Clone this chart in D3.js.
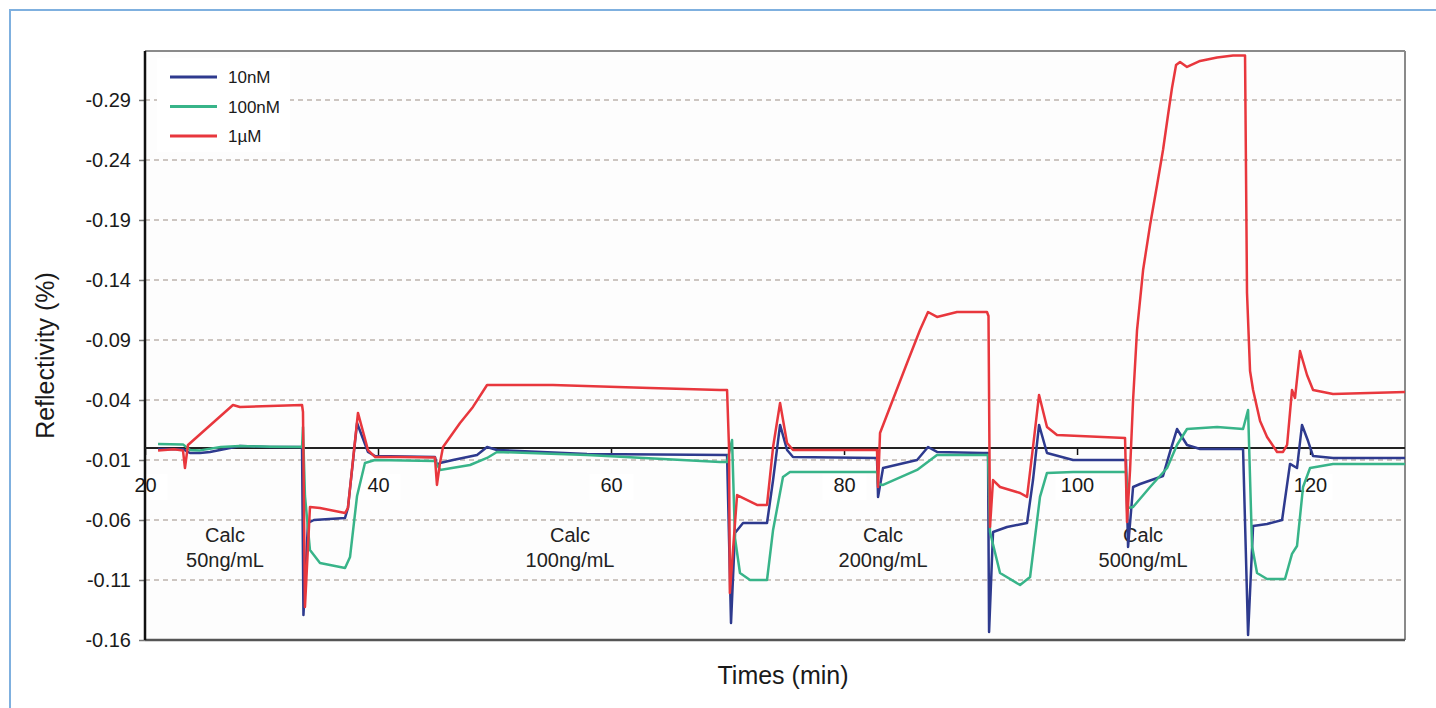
<!DOCTYPE html>
<html>
<head>
<meta charset="utf-8">
<script src="https://cdn.jsdelivr.net/npm/d3@7"></script>
<style>
  body { margin: 0; background: #fff; }
  svg { display: block; font-family: "Liberation Sans", Arial, sans-serif; }
</style>
</head>
<body>
<div class="chart"></div>
<script>
const seriesNames = ['10nM', '100nM', '1\u00b5M']
const seriesColors = ['#2e3a8e', '#38b489', '#e8373d']

// [time (min), reflectivity]
const s10nM = [
  [21.12, -0.0008], [23.26, -0.001], [23.86, -0.0042], [24.72, -0.0042], [25.58, -0.0033],
  [28.15, 0.0017], [30.73, 0.0008], [33.48, 0.0008], [33.6, -0.1392], [33.99, -0.0625],
  [34.5, -0.06], [37.17, -0.0583], [37.42, -0.05], [38.2, 0.0208], [39.14, -0.0033],
  [39.74, -0.0067], [44.89, -0.0075], [45.06, -0.0142], [45.32, -0.0125], [46.44, -0.01],
  [48.5, -0.0058], [49.36, 0.0008], [50.21, -0.0017], [57.94, -0.005], [69.96, -0.0058],
  [70.3, -0.1458], [70.64, -0.0708], [71.33, -0.0625], [73.39, -0.0625], [73.91, -0.0267],
  [74.51, 0.0192], [75.11, -0.0017], [75.62, -0.0075], [82.83, -0.0083], [82.92, -0.0408],
  [83.35, -0.0167], [86.27, -0.01], [87.21, 0.0008], [87.98, -0.0033], [91.93, -0.0042],
  [92.36, -0.0042], [92.45, -0.1533], [92.79, -0.07], [93.99, -0.0658], [95.71, -0.0625],
  [96.22, -0.0267], [96.74, 0.0192], [97.42, -0.0042], [99.66, -0.01], [104.2, -0.01],
  [104.38, -0.0825], [104.81, -0.0325], [105.41, -0.03], [107.38, -0.0233], [107.98, -0.0033],
  [108.58, 0.0158], [109.44, 0.0025], [110.56, -0.0008], [114.25, -0.0008], [114.68, -0.1558],
  [115.11, -0.065], [116.31, -0.0633], [117.6, -0.06], [118.28, -0.0133], [118.88, -0.0167],
  [119.31, 0.0192], [119.83, 0.0058], [120.26, -0.0067], [121.97, -0.0083], [128.15, -0.0083]
]

const s100nM = [
  [21.12, 0.0033], [23.26, 0.003], [23.86, -0.0017], [24.72, -0.002], [26.5, 0.0008],
  [28.15, 0.0017], [30.73, 0.001], [33.48, 0.0008], [33.56, 0.0175], [33.73, -0.04],
  [34.16, -0.085], [35.02, -0.0958], [37.17, -0.1], [37.6, -0.0908], [38.2, -0.04],
  [38.88, -0.0125], [39.74, -0.01], [44.89, -0.0108], [45.32, -0.0183], [47.9, -0.0142],
  [49.36, -0.0083], [50.21, -0.0033], [57.94, -0.0058], [69.36, -0.0117], [69.96, -0.0117],
  [70.39, 0.0067], [70.64, -0.075], [71.07, -0.1042], [71.93, -0.11], [73.39, -0.11],
  [73.91, -0.0683], [74.76, -0.0242], [75.36, -0.02], [82.83, -0.02], [82.92, -0.03],
  [83.35, -0.0308], [86.27, -0.0183], [87.98, -0.0058], [92.36, -0.0058], [92.53, -0.07],
  [93.39, -0.1042], [95.11, -0.1142], [95.97, -0.1075], [96.82, -0.0408], [97.42, -0.0208],
  [99.66, -0.02], [104.2, -0.02], [104.38, -0.05], [104.81, -0.0492], [106.27, -0.0325],
  [107.73, -0.0167], [108.58, 0.0025], [109.44, 0.0158], [112.02, 0.0175], [114.25, 0.0158],
  [114.68, 0.0317], [115.02, -0.0817], [115.45, -0.1042], [116.31, -0.1092], [117.85, -0.1092],
  [118.45, -0.0883], [118.88, -0.0817], [119.4, -0.0325], [120.0, -0.0167], [121.97, -0.0133],
  [128.15, -0.0133]
]

const s1uM = [
  [21.12, -0.002], [22.5, -0.001], [23.26, -0.002], [23.43, -0.0167], [23.69, 0.0025],
  [27.55, 0.0358], [28.15, 0.0342], [30.73, 0.035], [33.48, 0.0358],
  [33.56, 0.03], [33.73, -0.1325], [34.16, -0.0492], [35.02, -0.05], [37.17, -0.0542],
  [37.42, -0.05], [38.28, 0.0292], [39.14, -0.0017], [39.74, -0.0075], [41.89, -0.0075],
  [44.89, -0.008], [45.06, -0.0308], [45.32, -0.0125], [45.58, 0.0008], [47.04, 0.0208],
  [48.15, 0.0342], [49.36, 0.0525], [55.02, 0.0525], [63.35, 0.05], [69.36, 0.0483],
  [69.96, 0.0483], [70.13, 0.0], [70.2, -0.1208], [70.82, -0.0392], [72.53, -0.0475],
  [73.39, -0.0475], [73.91, 0.0008], [74.51, 0.0375], [75.11, 0.0042], [75.62, -0.0017],
  [82.83, -0.0017], [82.92, -0.0325], [83.09, 0.0125], [83.95, 0.0342], [85.41, 0.0708],
  [86.52, 0.0983], [87.21, 0.1133], [87.98, 0.1092], [89.7, 0.1133], [92.27, 0.1133],
  [92.4, 0.11], [92.53, -0.0658], [92.79, -0.0267], [93.39, -0.0325], [95.11, -0.0375],
  [95.71, -0.0408], [96.22, 0.0008], [96.74, 0.0442], [97.42, 0.0175], [98.28, 0.0108],
  [104.12, 0.0083], [104.29, -0.0617], [104.55, -0.0183], [104.81, 0.04], [105.15, 0.0983],
  [105.67, 0.1483], [106.27, 0.1858], [106.87, 0.2192], [107.38, 0.2483], [107.81, 0.2775],
  [108.15, 0.3], [108.5, 0.3192], [108.84, 0.3217], [109.44, 0.3175], [110.56, 0.3225],
  [112.02, 0.3254], [113.39, 0.327], [114.42, 0.327],
  [114.59, 0.1292], [114.85, 0.0642], [115.11, 0.0483], [115.71, 0.0225], [116.31, 0.0092],
  [117.17, -0.0033], [117.68, -0.0033], [118.03, 0.0025], [118.45, 0.0483], [118.71, 0.0417],
  [119.14, 0.0808], [119.74, 0.0608], [120.26, 0.0483], [121.97, 0.045], [128.15, 0.0467]
]

const xTicks = [20, 40, 60, 80, 100, 120]
const yTicks = [-0.16, -0.11, -0.06, -0.01, 0.04, 0.09, 0.14, 0.19, 0.24, 0.29]
const yTickLabels = ['-0.16', '-0.11', '-0.06', '-0.01', '-0.04', '-0.09', '-0.14', '-0.19', '-0.24', '-0.29']
const calcTimes = [26.87, 56.48, 83.35, 105.67]
const calcLabels = ['50ng/mL', '100ng/mL', '200ng/mL', '500ng/mL']

const W = 1436, H = 708
const margin = {top: 51, right: 31, bottom: 68, left: 145}

let svg = d3.select('.chart')
  .append('svg')
    .attr('width', W)
    .attr('height', H)

// outer frame
svg.append('line').attr('x1', 9).attr('x2', W).attr('y1', 10).attr('y2', 10)
  .attr('stroke', '#7fb0df').attr('stroke-width', 2)
svg.append('line').attr('x1', 10).attr('x2', 10).attr('y1', 9).attr('y2', H)
  .attr('stroke', '#7fb0df').attr('stroke-width', 2)

let x = d3.scaleLinear().domain([20, 128.15]).range([margin.left, W - margin.right])
let y = d3.scaleLinear().domain([-0.16, 0.3308]).range([H - margin.bottom, margin.top])

svg.append('rect')
  .attr('x', x(20)).attr('y', y(0.3308))
  .attr('width', x(128.15) - x(20)).attr('height', y(-0.16) - y(0.3308))
  .attr('fill', '#fdfdfd')

// grid
svg.append('g')
  .selectAll('line')
  .data(yTicks.slice(1))
  .enter()
  .append('line')
    .attr('x1', x(20)).attr('x2', x(128.15))
    .attr('y1', d => y(d)).attr('y2', d => y(d))
    .attr('stroke', '#bdb4ad')
    .attr('stroke-width', 1.5)
    .attr('stroke-dasharray', '5,4')

// calc annotations
let ann = svg.append('g').attr('font-size', 20).attr('fill', '#222').attr('text-anchor', 'middle')
calcTimes.forEach((t, i) => {
  ann.append('text').attr('x', x(t)).attr('y', y(0) + 94).text('Calc')
  ann.append('text').attr('x', x(t)).attr('y', y(0) + 119).text(calcLabels[i])
})

// y axis
let yAxis = d3.axisLeft(y)
  .tickValues(yTicks)
  .tickFormat((d, i) => yTickLabels[i])
  .tickSize(6)
  .tickPadding(8)
let gy = svg.append('g')
  .attr('transform', 'translate(' + margin.left + ',0)')
  .call(yAxis)
gy.select('.domain').remove()
gy.selectAll('.tick line').attr('stroke', '#777').attr('stroke-width', 1.5)
gy.selectAll('.tick text')
  .attr('font-size', 20).attr('fill', '#1a1a1a')
  .attr('font-family', '"Liberation Sans", Arial, sans-serif')

// x axis on the zero line
let xAxis = d3.axisBottom(x)
  .tickValues(xTicks)
  .tickSize(7)
  .tickPadding(23)
let gx = svg.append('g')
  .attr('transform', 'translate(0,' + y(0) + ')')
  .call(xAxis)
gx.select('.domain').remove()
gx.selectAll('.tick line').attr('stroke', '#111').attr('stroke-width', 1.5)
gx.selectAll('.tick').insert('rect', 'text')
  .attr('x', -22).attr('y', 26).attr('width', 44).attr('height', 26)
  .attr('fill', '#fff')
gx.selectAll('.tick text')
  .attr('font-size', 20).attr('fill', '#1a1a1a')
  .attr('font-family', '"Liberation Sans", Arial, sans-serif')

// frame
svg.append('line').attr('x1', x(20)).attr('x2', x(128.15)).attr('y1', y(0.3308)).attr('y2', y(0.3308))
  .attr('stroke', '#8a8a8a').attr('stroke-width', 2)
svg.append('line').attr('x1', x(128.15)).attr('x2', x(128.15)).attr('y1', y(0.3308)).attr('y2', y(-0.16))
  .attr('stroke', '#8a8a8a').attr('stroke-width', 2)
svg.append('line').attr('x1', x(20)).attr('x2', x(128.15)).attr('y1', y(-0.16)).attr('y2', y(-0.16))
  .attr('stroke', '#555').attr('stroke-width', 2.5)
svg.append('line').attr('x1', x(20)).attr('x2', x(20)).attr('y1', y(0.3308)).attr('y2', y(-0.16))
  .attr('stroke', '#111').attr('stroke-width', 2.5)
svg.append('line').attr('x1', x(20)).attr('x2', x(128.15)).attr('y1', y(0)).attr('y2', y(0))
  .attr('stroke', '#222').attr('stroke-width', 2)

// series
let line = d3.line()
  .x(d => x(d[0]))
  .y(d => y(d[1]))

svg.append('g')
  .selectAll('path')
  .data([s10nM, s100nM, s1uM])
  .enter()
  .append('path')
    .attr('d', line)
    .attr('fill', 'none')
    .attr('stroke', (d, i) => seriesColors[i])
    .attr('stroke-width', 2.5)
    .attr('stroke-linejoin', 'round')

// legend
let legend = svg.append('g')
legend.append('rect')
  .attr('x', 157).attr('y', 58).attr('width', 133).attr('height', 94)
  .attr('fill', '#fff')
let item = legend.selectAll('g')
  .data(seriesNames)
  .enter()
  .append('g')
    .attr('transform', (d, i) => 'translate(0,' + (77 + i * 29.5) + ')')
item.append('line')
  .attr('x1', 170).attr('x2', 217)
  .attr('stroke', (d, i) => seriesColors[i])
  .attr('stroke-width', 3)
item.append('text')
  .attr('x', 228).attr('y', 6)
  .attr('font-size', 17).attr('fill', '#1a1a1a')
  .text(d => d)

// axis titles
svg.append('text')
  .attr('transform', 'translate(54,' + ((y(0.3308) + y(-0.16)) / 2 + 10) + ') rotate(-90)')
  .attr('text-anchor', 'middle')
  .attr('font-size', 25).attr('fill', '#1a1a1a')
  .text('Reflectivity (%)')

svg.append('text')
  .attr('x', 783).attr('y', 684)
  .attr('text-anchor', 'middle')
  .attr('font-size', 25).attr('fill', '#1a1a1a')
  .text('Times (min)')
</script>
</body>
</html>
